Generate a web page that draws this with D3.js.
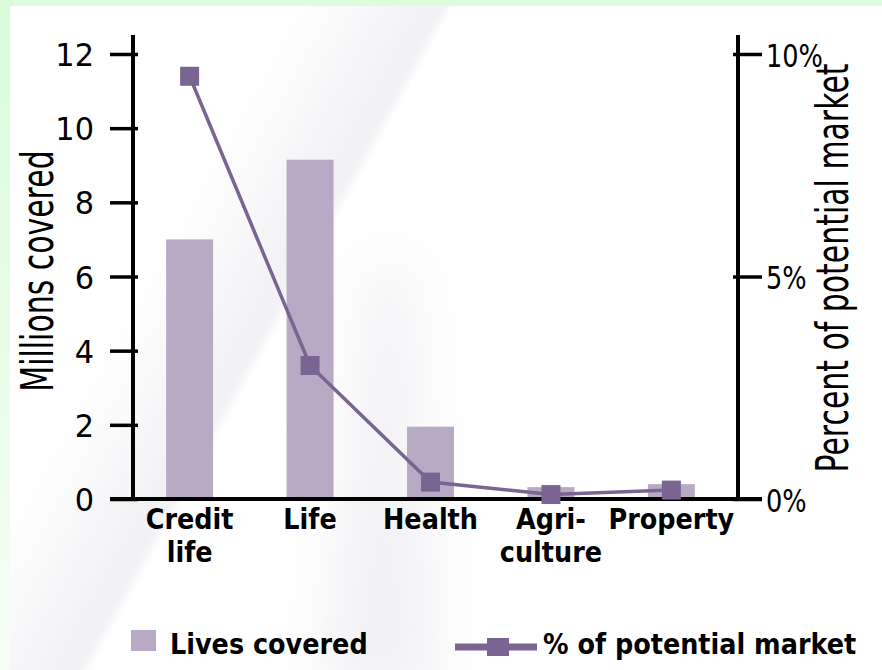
<!DOCTYPE html>
<html>
<head>
<meta charset="utf-8">
<script src="https://cdn.jsdelivr.net/npm/d3@7"></script>
<style>
  html, body { margin: 0; padding: 0; background: #dcfcdc; }
  svg { display: block; }
</style>
</head>
<body>
<div id="chart"></div>
<script>
// values
var categories = ["Credit\nlife", "Life", "Health", "Agri-\nculture", "Property"];
var livesCovered = [7.0, 9.15, 1.95, 0.32, 0.40];   // millions covered
var pctOfMarket = [9.5, 3.0, 0.38, 0.1, 0.2];       // percent of potential market
var leftTicks = [0, 2, 4, 6, 8, 10, 12];
var rightTicks = [0, 5, 10];
var rightTickLabels = ["0%", "5%", "10%"];
var legendLabels = ["Lives covered", "% of potential market"];

var width = 882, height = 670,
    barColor = "#b8aac5",
    lineColor = "#7a6592",
    font = "'DejaVu Sans', sans-serif",
    axisLeftX = 133,
    axisRightX = 738;

var svg = d3.select("#chart").append("svg")
    .attr("width", width).attr("height", height);
var defs = svg.append("defs");

// --- background: green frame, white panel, soft grey sweeps
var edge = defs.append("linearGradient").attr("id", "edge")
    .attr("x1", 0).attr("y1", 0).attr("x2", 0).attr("y2", 1);
edge.append("stop").attr("offset", 0).attr("stop-color", "#d9fbd9");
edge.append("stop").attr("offset", 1).attr("stop-color", "#f6fff6");

svg.append("rect").attr("width", width).attr("height", height).attr("fill", "#dcfcdc");
svg.append("rect").attr("width", 10).attr("height", height).attr("fill", "url(#edge)");

var panel = svg.append("g");
panel.append("clipPath").attr("id", "panelclip")
  .append("rect").attr("x", 10).attr("y", 6)
    .attr("width", width - 10).attr("height", height - 6);
panel.attr("clip-path", "url(#panelclip)");
panel.append("rect").attr("x", 10).attr("y", 6)
    .attr("width", width - 10).attr("height", height - 6).attr("fill", "#fff");

defs.append("filter").attr("id", "soft").attr("x", "-50%").attr("y", "-50%")
    .attr("width", "200%").attr("height", "200%")
  .append("feGaussianBlur").attr("stdDeviation", 3);
defs.append("filter").attr("id", "softer").attr("x", "-50%").attr("y", "-50%")
    .attr("width", "200%").attr("height", "200%")
  .append("feGaussianBlur").attr("stdDeviation", 30);

var sweep = defs.append("linearGradient").attr("id", "sweep")
    .attr("gradientUnits", "userSpaceOnUse")
    .attr("x1", 290).attr("y1", 6).attr("x2", 420).attr("y2", 78);
sweep.append("stop").attr("offset", 0).attr("stop-color", "#f2f2f5").attr("stop-opacity", 0);
sweep.append("stop").attr("offset", 0.8).attr("stop-color", "#f2f2f5").attr("stop-opacity", 1);
sweep.append("stop").attr("offset", 1).attr("stop-color", "#f3f3f6").attr("stop-opacity", 1);
panel.append("polygon")
    .attr("points", "240,0 452,0 80,680 0,680 0,330")
    .attr("fill", "url(#sweep)")
    .attr("filter", "url(#soft)");

panel.append("polygon")
    .attr("points", "320,700 440,700 410,260 370,260")
    .attr("fill", "#f1f1f4")
    .attr("filter", "url(#softer)");

// --- scales
var x = d3.scaleBand().domain(categories)
    .range([130, 731]).paddingInner(0.61).paddingOuter(0.3);
var y = d3.scaleLinear().domain([0, 12]).range([499, 54]);
var yPct = d3.scaleLinear().domain([0, 10]).range([499, 54]);
function cx(d) { return x(d) + x.bandwidth() / 2; }

// --- bars
svg.append("g").selectAll("rect")
    .data(categories)
    .join("rect")
    .attr("x", function(d) { return x(d); })
    .attr("y", function(d, i) { return y(livesCovered[i]); })
    .attr("width", x.bandwidth())
    .attr("height", function(d, i) { return y(0) - y(livesCovered[i]); })
    .attr("fill", barColor);

// --- axes
var gL = svg.append("g").attr("transform", "translate(" + axisLeftX + ",0)")
    .call(d3.axisLeft(y).tickValues(leftTicks).tickSize(23).tickFormat(d3.format("d")));
gL.select(".domain").remove();
gL.selectAll(".tick line").attr("x1", 5).attr("stroke", "#000").attr("stroke-width", 3.5);
gL.selectAll(".tick text")
    .attr("font-family", font).attr("font-size", 32).attr("fill", "#000")
    .attr("x", -39 / 0.95).attr("dy", "0.36em")
    .attr("transform", "scale(0.95,1)");

var gR = svg.append("g").attr("transform", "translate(" + axisRightX + ",0)")
    .call(d3.axisRight(yPct).tickValues(rightTicks).tickSize(24)
      .tickFormat(function(d, i) { return rightTickLabels[i]; }));
gR.select(".domain").remove();
gR.selectAll(".tick line").attr("x1", -5).attr("stroke", "#000").attr("stroke-width", 3.5);
gR.selectAll(".tick text")
    .attr("font-family", font).attr("font-size", 32).attr("fill", "#000")
    .attr("x", 28 / 0.8).attr("dy", "0.38em")
    .attr("transform", "scale(0.8,1)");

[axisLeftX, axisRightX].forEach(function(ax) {
  svg.append("line").attr("x1", ax).attr("x2", ax)
      .attr("y1", 35).attr("y2", y(0))
      .attr("stroke", "#000").attr("stroke-width", 4);
});
svg.append("line").attr("x1", 110).attr("x2", 762)
    .attr("y1", y(0)).attr("y2", y(0))
    .attr("stroke", "#000").attr("stroke-width", 4);

// category labels, two lines where the source breaks them
svg.append("g").selectAll("text")
    .data(categories)
    .join("text")
    .attr("transform", function(d) { return "translate(" + cx(d) + ",529) scale(0.88,1)"; })
    .attr("text-anchor", "middle")
    .attr("font-family", font).attr("font-weight", "bold").attr("font-size", 29)
    .attr("fill", "#000")
    .selectAll("tspan")
    .data(function(d) { return d.split("\n"); })
    .join("tspan")
    .attr("x", 0)
    .attr("dy", function(d, i) { return i ? 33 : 0; })
    .text(function(d) { return d; });

// axis titles
svg.append("text")
    .attr("transform", "translate(53,271) rotate(-90) scale(0.68,1)")
    .attr("text-anchor", "middle")
    .attr("font-family", font).attr("font-size", 44).attr("fill", "#000")
    .text("Millions covered");
svg.append("text")
    .attr("transform", "translate(848,268) rotate(-90) scale(0.68,1)")
    .attr("text-anchor", "middle")
    .attr("font-family", font).attr("font-size", 44).attr("fill", "#000")
    .text("Percent of potential market");

// --- line + square markers
var line = d3.line()
    .x(function(d, i) { return cx(categories[i]); })
    .y(function(d) { return yPct(d); });
svg.append("path").datum(pctOfMarket)
    .attr("d", line)
    .attr("fill", "none").attr("stroke", lineColor).attr("stroke-width", 3.5);
svg.append("g").selectAll("rect")
    .data(pctOfMarket)
    .join("rect")
    .attr("x", function(d, i) { return cx(categories[i]) - 9.5; })
    .attr("y", function(d) { return yPct(d) - 9.5; })
    .attr("width", 19).attr("height", 19)
    .attr("fill", lineColor);

// --- legend
var lg = svg.append("g");
lg.append("rect").attr("x", 131).attr("y", 630).attr("width", 25).attr("height", 21)
    .attr("fill", barColor);
lg.append("line").attr("x1", 455).attr("x2", 537).attr("y1", 647).attr("y2", 647)
    .attr("stroke", lineColor).attr("stroke-width", 7);
lg.append("rect").attr("x", 487).attr("y", 638).attr("width", 22).attr("height", 18)
    .attr("fill", lineColor);
lg.selectAll("text")
    .data(legendLabels)
    .join("text")
    .attr("transform", function(d, i) { return "translate(" + (i ? 543 : 170) + ",654) scale(0.88,1)"; })
    .attr("font-family", font).attr("font-weight", "bold").attr("font-size", 29)
    .attr("fill", "#000")
    .text(function(d) { return d; });
</script>
</body>
</html>
